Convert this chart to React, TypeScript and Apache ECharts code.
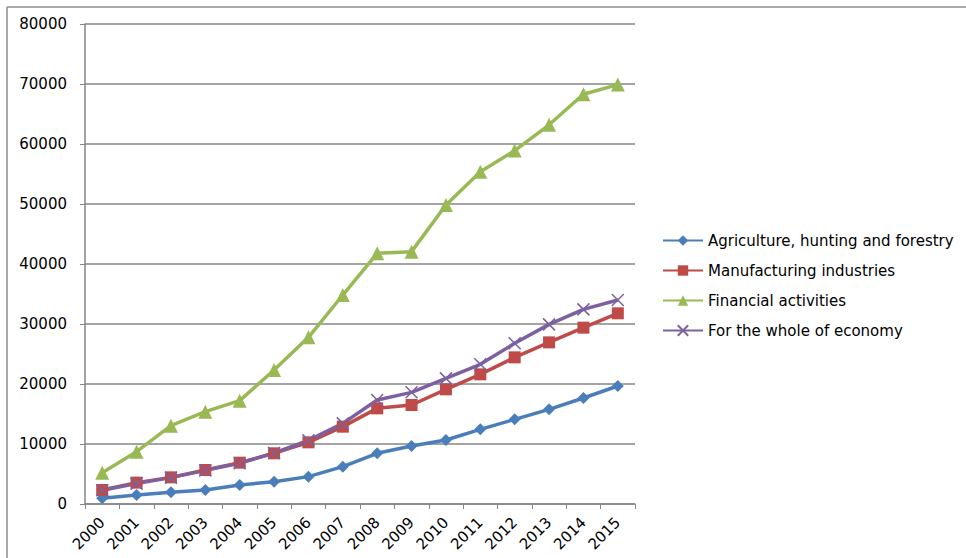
import React, { useEffect, useRef } from "react";
import * as echarts from "echarts";

const years = ["2000","2001","2002","2003","2004","2005","2006","2007","2008","2009","2010","2011","2012","2013","2014","2015"];
const agriculture = [950,1500,1950,2330,3170,3720,4560,6220,8450,9670,10670,12440,14110,15780,17670,19670];
const manufacturing = [2330,3560,4440,5670,6890,8450,10280,12890,15940,16500,19110,21610,24440,26940,29390,31780];
const financial = [5220,8720,13060,15390,17220,22330,27780,34830,41780,42060,49830,55390,58900,63200,68300,69900];
const wholeEconomy = [2300,3400,4400,5600,6800,8500,10600,13440,17330,18610,20940,23280,26780,29940,32440,34000];
const seriesNames = ["Agriculture, hunting and forestry","Manufacturing industries","Financial activities","For the whole of economy"];

const FONT = "DejaVu Sans";
const GRAY = "#868686";

export default function App() {
  const ref = useRef<HTMLDivElement>(null);
  useEffect(() => {
    document.body.style.margin = "0";
    const chart = echarts.init(ref.current!, null, { renderer: "svg" });
    const mk = (name: string, data: number[], color: string, symbol: string, size: number) => ({
      name,
      type: "line",
      data,
      symbol,
      symbolSize: size,
      showSymbol: true,
      lineStyle: { color, width: 3.5 },
      itemStyle: { color },
      emphasis: { disabled: true },
    });
    chart.setOption({
      animation: false,
      backgroundColor: "#ffffff",
      textStyle: { fontFamily: FONT },
      grid: { left: 85, right: 331, top: 24, bottom: 54, containLabel: false },
      xAxis: {
        type: "category",
        data: years,
        boundaryGap: true,
        axisLine: { lineStyle: { color: GRAY, width: 1.5 } },
        axisTick: { show: true, length: 5, lineStyle: { color: GRAY } },
        axisLabel: { interval: 0, rotate: 45, margin: 16, color: "#000", fontSize: 15, fontFamily: FONT },
        splitLine: { show: false },
      },
      yAxis: {
        type: "value",
        min: 0,
        max: 80000,
        interval: 10000,
        axisLine: { show: true, lineStyle: { color: GRAY, width: 1.5 } },
        axisTick: { show: true, length: 5, lineStyle: { color: GRAY } },
        axisLabel: { margin: 18, color: "#000", fontSize: 15, fontFamily: FONT, formatter: (v: number) => String(v) },
        splitLine: { show: true, lineStyle: { color: GRAY, width: 1.5 } },
      },
      legend: {
        orient: "vertical",
        left: 662,
        top: 233,
        padding: 0,
        itemWidth: 40,
        itemHeight: 13,
        itemGap: 15,
        textStyle: { fontSize: 15, color: "#000", fontFamily: FONT },
        data: seriesNames,
      },
      graphic: [
        { type: "line", shape: { x1: 7, y1: 7, x2: 966, y2: 7 }, style: { stroke: "#8c8c8c", lineWidth: 1.5 } },
        { type: "line", shape: { x1: 7, y1: 7, x2: 7, y2: 558 }, style: { stroke: "#8c8c8c", lineWidth: 1.5 } },
      ],
      series: [
        mk(seriesNames[0], agriculture, "#4A7EBB", "diamond", 12),
        mk(seriesNames[1], manufacturing, "#BE4B48", "rect", 12),
        mk(seriesNames[2], financial, "#98B954", "triangle", 14),
        {
          ...mk(seriesNames[3], wholeEconomy, "#7D60A0", "path://M0,0L10,10M10,0L0,10", 12),
          itemStyle: { color: "rgba(0,0,0,0)", borderColor: "#7D60A0", borderWidth: 1.5 },
        },
      ],
    });
    return () => chart.dispose();
  }, []);
  return <div ref={ref} style={{ width: 966, height: 558 }} />;
}
